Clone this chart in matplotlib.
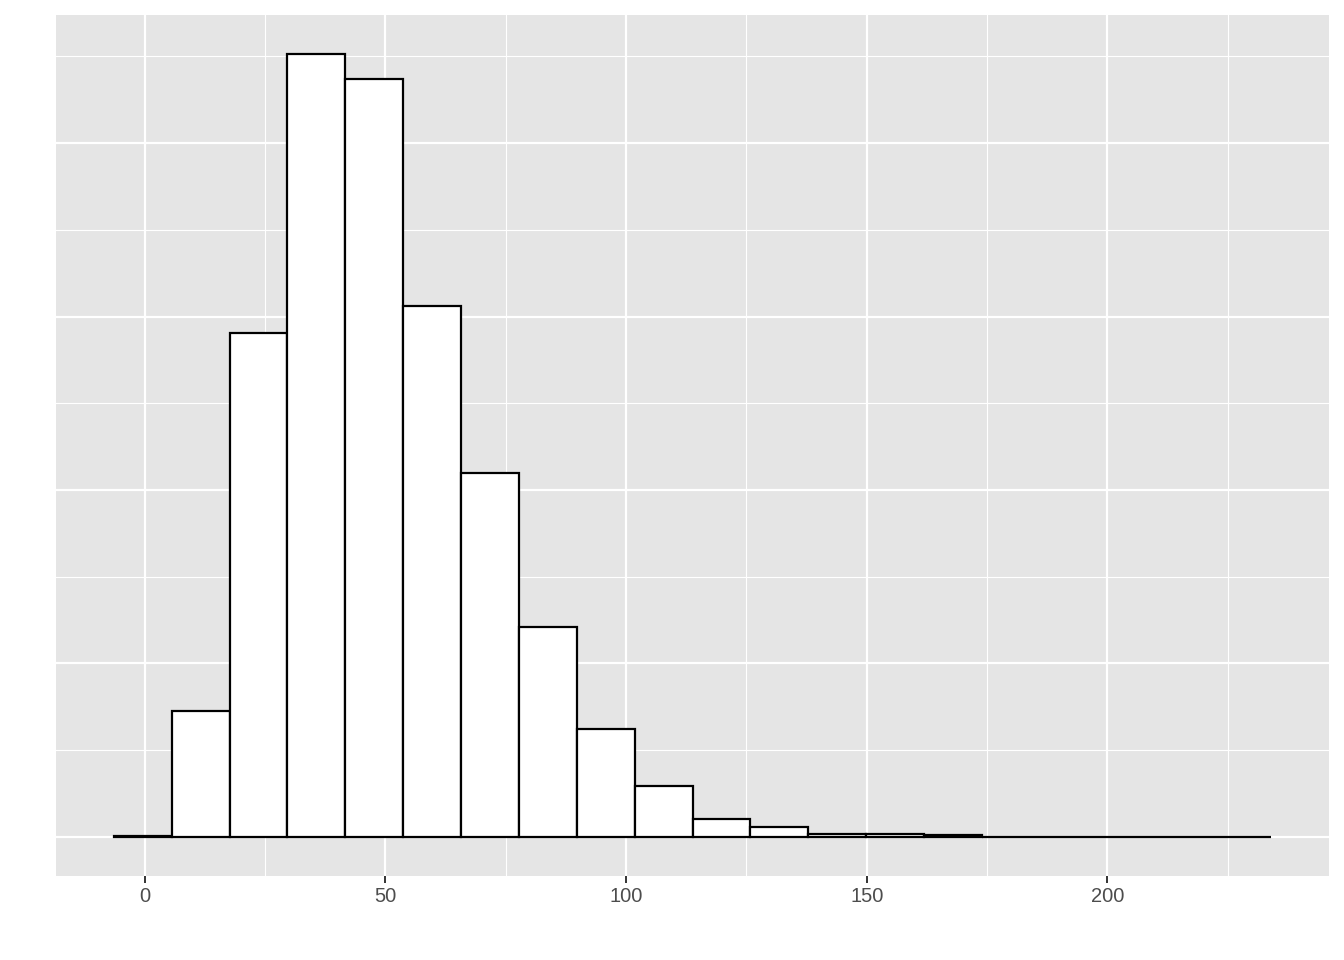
import numpy as np
import matplotlib
matplotlib.use("Agg")
import matplotlib.pyplot as plt

# Histogram data
bin_start = -6.4
bin_width = 12.02
counts = [6, 726, 2905, 4513, 4369, 3060, 2098, 1210, 622, 294,
          104, 58, 17, 17, 8, 2, 0, 1, 0, 1]
x_ticks = [0, 50, 100, 150, 200]
x_minor = [25, 75, 125, 175, 225]
y_major = [0, 1000, 2000, 3000, 4000]
y_minor = [500, 1500, 2500, 3500, 4500]

n = len(counts)
edges = bin_start + bin_width * np.arange(n + 1)

fig = plt.figure(figsize=(13.44, 9.6), dpi=100)
ax = fig.add_axes([56/1344, 84/960, (1329-56)/1344, (876-15)/960])
ax.set_facecolor("#E5E5E5")

ax.bar(edges[:-1], counts, width=bin_width, align="edge",
       facecolor="white", edgecolor="black", linewidth=1.6, zorder=3)

xmin, xmax = edges[0], edges[-1]
span = xmax - xmin
ax.set_xlim(xmin - 0.05 * span, xmax + 0.05 * span)
ymax = max(counts)
ax.set_ylim(-0.05 * ymax, 1.05 * ymax)

ax.set_xticks(x_ticks)
ax.set_xticks(x_minor, minor=True)
ax.set_yticks(y_major)
ax.set_yticks(y_minor, minor=True)
ax.set_yticklabels([])
ax.set_xticklabels([str(t) for t in x_ticks], fontsize=14.5, color="#4D4D4D",
                   family=["Liberation Sans", "DejaVu Sans"])

ax.grid(which="major", color="white", linewidth=1.6, zorder=0)
ax.grid(which="minor", color="white", linewidth=0.8, zorder=0)
ax.set_axisbelow(True)

ax.tick_params(axis="x", which="major", length=5, width=1.4, color="#333333", pad=3)
ax.tick_params(axis="x", which="minor", length=0)
ax.tick_params(axis="y", which="both", length=0)
for s in ax.spines.values():
    s.set_visible(False)

fig.savefig("out.png", dpi=100, facecolor="white")
